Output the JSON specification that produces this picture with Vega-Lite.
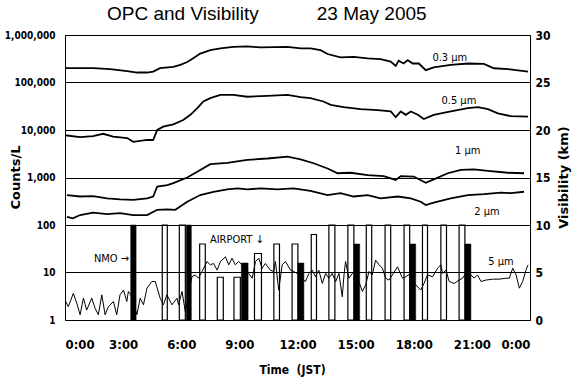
{
  "$schema": "https://vega.github.io/schema/vega-lite/v6.json",
  "width": 465,
  "height": 285,
  "autosize": {"type": "none"},
  "padding": {"left": 65, "top": 35, "right": 43, "bottom": 65},
  "background": "white",
  "title": {
    "text": "OPC and Visibility\u00a0\u00a0\u00a0\u00a0\u00a0\u00a0\u00a0\u00a0\u00a0\u00a0\u00a023 May 2005",
    "anchor": "start", "frame": "group", "dx": 42, "dy": 21, "offset": 11, "baseline": "alphabetic",
    "font": "Liberation Sans", "fontSize": 19, "fontWeight": "normal", "color": "black"
  },
  "config": {
    "view": {"stroke": "black", "strokeWidth": 1},
    "axis": {
      "labelFont": "Liberation Sans Narrow, DejaVu Sans Condensed, sans-serif",
      "labelFontWeight": "bold", "labelColor": "black",
      "titleFont": "DejaVu Sans", "titleFontWeight": "bold", "titleColor": "black",
      "domain": false, "ticks": false
    }
  },
  "datasets": {
    "lines": [
      {"s":"0.3","t":0,"c":200000},{"s":"0.3","t":1.45,"c":200000},{"s":"0.3","t":2.33,"c":190500},{"s":"0.3","t":3.21,"c":173800},{"s":"0.3","t":3.72,"c":162200},{"s":"0.3","t":4.24,"c":162200},{"s":"0.3","t":4.55,"c":169800},{"s":"0.3","t":4.91,"c":200000},{"s":"0.3","t":5.59,"c":213800},{"s":"0.3","t":5.95,"c":234400},{"s":"0.3","t":6.31,"c":269200},{"s":"0.3","t":6.62,"c":323600},{"s":"0.3","t":6.98,"c":407400},{"s":"0.3","t":7.5,"c":478600},{"s":"0.3","t":8.02,"c":524800},{"s":"0.3","t":8.69,"c":562300},{"s":"0.3","t":9.4,"c":575000},{"s":"0.3","t":10.09,"c":549500},{"s":"0.3","t":11.48,"c":562300},{"s":"0.3","t":12.16,"c":524800},{"s":"0.3","t":12.67,"c":524800},{"s":"0.3","t":13.19,"c":478600},{"s":"0.3","t":13.55,"c":398100},{"s":"0.3","t":14.22,"c":338800},{"s":"0.3","t":14.9,"c":346700},{"s":"0.3","t":15.62,"c":323600},{"s":"0.3","t":16.29,"c":309000},{"s":"0.3","t":16.81,"c":275400},{"s":"0.3","t":17.07,"c":223900},{"s":"0.3","t":17.22,"c":288400},{"s":"0.3","t":17.48,"c":251200},{"s":"0.3","t":17.69,"c":295100},{"s":"0.3","t":17.95,"c":251200},{"s":"0.3","t":18.26,"c":251200},{"s":"0.3","t":18.62,"c":182000},{"s":"0.3","t":19.03,"c":208900},{"s":"0.3","t":19.91,"c":234400},{"s":"0.3","t":20.79,"c":251200},{"s":"0.3","t":21.62,"c":245500},{"s":"0.3","t":22.14,"c":199500},{"s":"0.3","t":22.86,"c":190500},{"s":"0.3","t":23.9,"c":169800},
      {"s":"0.5","t":0,"c":7762},{"s":"0.5","t":0.78,"c":7079},{"s":"0.5","t":1.45,"c":7413},{"s":"0.5","t":1.97,"c":8318},{"s":"0.5","t":2.48,"c":7244},{"s":"0.5","t":3.21,"c":6761},{"s":"0.5","t":3.52,"c":5623},{"s":"0.5","t":4.24,"c":6166},{"s":"0.5","t":4.55,"c":6166},{"s":"0.5","t":4.76,"c":10000},{"s":"0.5","t":5.07,"c":11750},{"s":"0.5","t":5.59,"c":13180},{"s":"0.5","t":6.1,"c":16220},{"s":"0.5","t":6.47,"c":20890},{"s":"0.5","t":6.83,"c":28840},{"s":"0.5","t":7.14,"c":39810},{"s":"0.5","t":7.5,"c":46770},{"s":"0.5","t":8.02,"c":54950},{"s":"0.5","t":8.69,"c":54950},{"s":"0.5","t":9.41,"c":50120},{"s":"0.5","t":10.45,"c":52480},{"s":"0.5","t":11.48,"c":54950},{"s":"0.5","t":12.16,"c":48980},{"s":"0.5","t":12.67,"c":46770},{"s":"0.5","t":13.34,"c":39810},{"s":"0.5","t":13.71,"c":33880},{"s":"0.5","t":14.38,"c":30200},{"s":"0.5","t":15.26,"c":27540},{"s":"0.5","t":16.14,"c":26300},{"s":"0.5","t":16.81,"c":24550},{"s":"0.5","t":17.07,"c":18620},{"s":"0.5","t":17.33,"c":24550},{"s":"0.5","t":17.59,"c":20890},{"s":"0.5","t":17.85,"c":24550},{"s":"0.5","t":18.21,"c":20890},{"s":"0.5","t":18.52,"c":16980},{"s":"0.5","t":19.03,"c":20890},{"s":"0.5","t":19.91,"c":24550},{"s":"0.5","t":20.79,"c":28840},{"s":"0.5","t":21.31,"c":30200},{"s":"0.5","t":21.83,"c":27540},{"s":"0.5","t":22.34,"c":22390},{"s":"0.5","t":23.02,"c":19500},{"s":"0.5","t":23.9,"c":19050},
      {"s":"1","t":0.1,"c":427},{"s":"1","t":0.78,"c":398},{"s":"1","t":1.45,"c":407},{"s":"1","t":2.17,"c":363},{"s":"1","t":2.84,"c":347},{"s":"1","t":3.52,"c":339},{"s":"1","t":4.24,"c":363},{"s":"1","t":4.55,"c":398},{"s":"1","t":4.76,"c":646},{"s":"1","t":5.28,"c":692},{"s":"1","t":5.59,"c":759},{"s":"1","t":6.31,"c":1000},{"s":"1","t":6.98,"c":1445},{"s":"1","t":7.5,"c":1905},{"s":"1","t":8.38,"c":2042},{"s":"1","t":9.41,"c":2344},{"s":"1","t":10.45,"c":2512},{"s":"1","t":11.48,"c":2754},{"s":"1","t":12.16,"c":2399},{"s":"1","t":12.83,"c":1995},{"s":"1","t":13.55,"c":1549},{"s":"1","t":14.07,"c":1230},{"s":"1","t":14.74,"c":1259},{"s":"1","t":15.62,"c":1122},{"s":"1","t":16.45,"c":1072},{"s":"1","t":17.07,"c":891},{"s":"1","t":17.33,"c":1072},{"s":"1","t":18.0,"c":1047},{"s":"1","t":18.62,"c":776},{"s":"1","t":19.03,"c":912},{"s":"1","t":19.76,"c":1230},{"s":"1","t":20.43,"c":1445},{"s":"1","t":21.1,"c":1479},{"s":"1","t":21.83,"c":1380},{"s":"1","t":22.86,"c":1259},{"s":"1","t":23.69,"c":1230},
      {"s":"2","t":0.1,"c":148},{"s":"2","t":0.41,"c":138},{"s":"2","t":0.78,"c":162},{"s":"2","t":1.45,"c":182},{"s":"2","t":2.17,"c":170},{"s":"2","t":2.84,"c":178},{"s":"2","t":3.52,"c":162},{"s":"2","t":4.24,"c":162},{"s":"2","t":4.76,"c":209},{"s":"2","t":5.28,"c":214},{"s":"2","t":5.69,"c":209},{"s":"2","t":6.31,"c":309},{"s":"2","t":6.98,"c":427},{"s":"2","t":7.66,"c":501},{"s":"2","t":8.38,"c":562},{"s":"2","t":8.9,"c":589},{"s":"2","t":9.41,"c":562},{"s":"2","t":10.09,"c":589},{"s":"2","t":10.97,"c":562},{"s":"2","t":11.79,"c":589},{"s":"2","t":12.67,"c":525},{"s":"2","t":13.55,"c":427},{"s":"2","t":14.22,"c":468},{"s":"2","t":14.9,"c":398},{"s":"2","t":15.62,"c":427},{"s":"2","t":16.29,"c":363},{"s":"2","t":17.17,"c":398},{"s":"2","t":17.85,"c":363},{"s":"2","t":18.36,"c":309},{"s":"2","t":18.62,"c":263},{"s":"2","t":19.03,"c":295},{"s":"2","t":19.91,"c":363},{"s":"2","t":20.79,"c":427},{"s":"2","t":21.62,"c":447},{"s":"2","t":22.5,"c":479},{"s":"2","t":23.02,"c":468},{"s":"2","t":23.69,"c":501},
      {"s":"5","t":0.0,"c":2.63},{"s":"5","t":0.17,"c":1.91},{"s":"5","t":0.43,"c":3.63},{"s":"5","t":0.61,"c":2.24},{"s":"5","t":0.78,"c":1.29},{"s":"5","t":0.95,"c":2.88},{"s":"5","t":1.12,"c":1.62},{"s":"5","t":1.38,"c":2.88},{"s":"5","t":1.55,"c":1.78},{"s":"5","t":1.72,"c":1.29},{"s":"5","t":1.9,"c":3.39},{"s":"5","t":2.07,"c":1.29},{"s":"5","t":2.24,"c":1.91},{"s":"5","t":2.5,"c":2.45},{"s":"5","t":2.67,"c":1.29},{"s":"5","t":2.84,"c":3.39},{"s":"5","t":3.02,"c":4.27},{"s":"5","t":3.19,"c":2.45},{"s":"5","t":3.27,"c":3.98},{"s":"5","t":3.4,"c":3.39},{"s":"5","t":3.71,"c":1.29},{"s":"5","t":3.88,"c":2.88},{"s":"5","t":4.05,"c":2.09},{"s":"5","t":4.23,"c":4.68},{"s":"5","t":4.48,"c":6.46},{"s":"5","t":4.66,"c":6.46},{"s":"5","t":4.91,"c":2.88},{"s":"5","t":5.08,"c":2.09},{"s":"5","t":5.26,"c":3.39},{"s":"5","t":5.52,"c":2.09},{"s":"5","t":5.78,"c":2.88},{"s":"5","t":5.86,"c":2.09},{"s":"5","t":6.04,"c":3.98},{"s":"5","t":6.21,"c":1.51},{"s":"5","t":6.55,"c":8.13},{"s":"5","t":6.72,"c":8.91},{"s":"5","t":6.89,"c":7.59},{"s":"5","t":7.07,"c":10.5},{"s":"5","t":7.33,"c":17.0},{"s":"5","t":7.5,"c":14.5},{"s":"5","t":7.67,"c":15.5},{"s":"5","t":7.85,"c":11.2},{"s":"5","t":8.02,"c":17.0},{"s":"5","t":8.28,"c":21.4},{"s":"5","t":8.45,"c":14.5},{"s":"5","t":8.62,"c":20.0},{"s":"5","t":8.79,"c":14.5},{"s":"5","t":8.96,"c":17.0},{"s":"5","t":9.14,"c":14.5},{"s":"5","t":9.48,"c":9.55},{"s":"5","t":9.66,"c":7.59},{"s":"5","t":9.83,"c":17.0},{"s":"5","t":10.0,"c":20.0},{"s":"5","t":10.17,"c":12.3},{"s":"5","t":10.34,"c":15.5},{"s":"5","t":10.6,"c":11.2},{"s":"5","t":10.77,"c":10.5},{"s":"5","t":10.86,"c":17.0},{"s":"5","t":11.03,"c":4.27},{"s":"5","t":11.21,"c":14.5},{"s":"5","t":11.38,"c":17.0},{"s":"5","t":11.64,"c":11.2},{"s":"5","t":11.81,"c":10.5},{"s":"5","t":11.98,"c":9.55},{"s":"5","t":12.41,"c":6.46},{"s":"5","t":12.59,"c":9.55},{"s":"5","t":12.76,"c":11.2},{"s":"5","t":12.93,"c":8.13},{"s":"5","t":13.1,"c":11.2},{"s":"5","t":13.28,"c":5.89},{"s":"5","t":13.45,"c":9.55},{"s":"5","t":13.62,"c":7.59},{"s":"5","t":13.79,"c":9.55},{"s":"5","t":13.97,"c":6.46},{"s":"5","t":14.14,"c":9.55},{"s":"5","t":14.31,"c":3.09},{"s":"5","t":14.4,"c":8.91},{"s":"5","t":14.48,"c":17.0},{"s":"5","t":14.65,"c":7.59},{"s":"5","t":14.83,"c":9.55},{"s":"5","t":15.0,"c":11.2},{"s":"5","t":15.17,"c":6.46},{"s":"5","t":15.35,"c":3.98},{"s":"5","t":15.52,"c":5.5},{"s":"5","t":15.69,"c":10.5},{"s":"5","t":15.86,"c":8.91},{"s":"5","t":16.03,"c":18.2},{"s":"5","t":16.21,"c":14.5},{"s":"5","t":16.38,"c":12.3},{"s":"5","t":16.55,"c":7.59},{"s":"5","t":16.72,"c":6.92},{"s":"5","t":16.9,"c":8.91},{"s":"5","t":17.16,"c":13.2},{"s":"5","t":17.42,"c":7.59},{"s":"5","t":17.59,"c":8.13},{"s":"5","t":17.85,"c":9.55},{"s":"5","t":18.1,"c":5.5},{"s":"5","t":18.36,"c":4.27},{"s":"5","t":18.53,"c":5.89},{"s":"5","t":18.71,"c":8.91},{"s":"5","t":18.97,"c":8.13},{"s":"5","t":19.23,"c":12.3},{"s":"5","t":19.4,"c":14.5},{"s":"5","t":19.49,"c":9.55},{"s":"5","t":19.66,"c":11.2},{"s":"5","t":19.83,"c":6.46},{"s":"5","t":20.09,"c":5.89},{"s":"5","t":20.34,"c":6.92},{"s":"5","t":20.52,"c":7.59},{"s":"5","t":20.69,"c":9.55},{"s":"5","t":20.95,"c":8.91},{"s":"5","t":21.12,"c":7.59},{"s":"5","t":21.29,"c":8.91},{"s":"5","t":21.47,"c":6.46},{"s":"5","t":21.72,"c":6.92},{"s":"5","t":22.07,"c":7.24},{"s":"5","t":22.41,"c":7.24},{"s":"5","t":22.76,"c":7.59},{"s":"5","t":22.93,"c":7.59},{"s":"5","t":23.11,"c":12.3},{"s":"5","t":23.28,"c":8.91},{"s":"5","t":23.45,"c":4.68},{"s":"5","t":23.62,"c":6.46},{"s":"5","t":23.79,"c":11.2},{"s":"5","t":23.9,"c":14.5}
    ],
    "bars": [
      {"src":"AIRPORT","t":5.02,"t2":5.28,"vis":10},{"src":"AIRPORT","t":5.9,"t2":6.21,"vis":10},{"src":"AIRPORT","t":6.95,"t2":7.24,"vis":8},{"src":"AIRPORT","t":7.86,"t2":8.17,"vis":4.5},{"src":"AIRPORT","t":8.72,"t2":9.05,"vis":4.5},{"src":"AIRPORT","t":9.78,"t2":10.14,"vis":7},{"src":"AIRPORT","t":10.78,"t2":11.07,"vis":8},{"src":"AIRPORT","t":11.72,"t2":12.02,"vis":8},{"src":"AIRPORT","t":12.71,"t2":12.98,"vis":9},{"src":"AIRPORT","t":13.62,"t2":13.93,"vis":10},{"src":"AIRPORT","t":14.6,"t2":14.91,"vis":10},{"src":"AIRPORT","t":15.55,"t2":15.83,"vis":10},{"src":"AIRPORT","t":16.52,"t2":16.81,"vis":10},{"src":"AIRPORT","t":17.5,"t2":17.79,"vis":10},{"src":"AIRPORT","t":18.45,"t2":18.71,"vis":10},{"src":"AIRPORT","t":19.4,"t2":19.69,"vis":10},{"src":"AIRPORT","t":20.34,"t2":20.64,"vis":10},
      {"src":"NMO","t":3.39,"t2":3.67,"vis":10},{"src":"NMO","t":6.26,"t2":6.52,"vis":10},{"src":"NMO","t":9.1,"t2":9.45,"vis":6},{"src":"NMO","t":12.02,"t2":12.33,"vis":6},{"src":"NMO","t":14.91,"t2":15.21,"vis":8},{"src":"NMO","t":17.79,"t2":18.1,"vis":8},{"src":"NMO","t":20.64,"t2":20.95,"vis":8}
    ],
    "labels": [
      {"label":"0.3 μm","t":19.86,"c":330000},
      {"label":"0.5 μm","t":20.33,"c":40700},
      {"label":"1 μm","t":20.79,"c":3630},
      {"label":"2 μm","t":21.78,"c":187},
      {"label":"5 μm","t":22.5,"c":16.6},
      {"label":"NMO →","t":2.4,"c":19.1},
      {"label":"AIRPORT\u00a0↓","t":8.87,"c":48}
    ]
  },
  "encoding": {
    "x": {
      "field": "t", "type": "quantitative",
      "scale": {"domain": [0, 24], "nice": false, "zero": false},
      "axis": {
        "values": [0, 3, 6, 9, 12, 15, 18, 21, 24],
        "labelExpr": "(datum.value % 24) + ':00'",
        "grid": false, "labelFontSize": 13, "labelPadding": 18,
        "title": "Time\u00a0\u00a0(JST)", "titleFont": "Liberation Sans Narrow, DejaVu Sans Condensed, sans-serif",
        "titleFontSize": 12, "titleX": 227, "titleY": 44, "titleBaseline": "top"
      }
    }
  },
  "layer": [
    {
      "layer": [
        {
          "data": {"name": "lines"},
          "transform": [{"filter": "datum.s !== '5'"}],
          "mark": {"type": "line", "color": "black", "strokeWidth": 1.8, "clip": true},
          "encoding": {
            "y": {
              "field": "c", "type": "quantitative",
              "scale": {"type": "log", "domain": [1, 1000000]},
              "axis": {
                "orient": "left",
                "values": [1, 10, 100, 1000, 10000, 100000, 1000000],
                "format": ",", "grid": true, "gridColor": "black", "gridOpacity": 1, "gridWidth": 1,
                "labelFontSize": 10, "labelPadding": 10,
                "title": "Counts/L", "titleFontSize": 13, "titleAngle": -90,
                "titleX": -50, "titleY": 142, "titleBaseline": "middle", "titleAlign": "center"
              }
            },
            "detail": {"field": "s"}
          }
        },
        {
          "data": {"name": "lines"},
          "transform": [{"filter": "datum.s === '5'"}],
          "mark": {"type": "line", "color": "black", "strokeWidth": 1, "clip": true},
          "encoding": {"y": {"field": "c", "type": "quantitative"}}
        },
        {
          "data": {"name": "labels"},
          "mark": {"type": "text", "font": "Liberation Sans Narrow, DejaVu Sans Condensed, sans-serif", "fontSize": 11, "color": "black", "align": "center", "baseline": "middle"},
          "encoding": {"y": {"field": "c", "type": "quantitative"}, "text": {"field": "label"}}
        }
      ]
    },
    {
      "layer": [
        {
          "data": {"name": "bars"},
          "transform": [{"filter": "datum.src === 'AIRPORT'"}],
          "mark": {"type": "rect", "fill": "white", "fillOpacity": 0, "stroke": "black", "strokeWidth": 1.2},
          "encoding": {
            "x2": {"field": "t2"},
            "y": {
              "field": "vis", "type": "quantitative",
              "scale": {"domain": [0, 30], "nice": false},
              "axis": {
                "orient": "right", "values": [0, 5, 10, 15, 20, 25, 30], "grid": false,
                "labelFontSize": 12, "labelPadding": 5,
                "title": "Visibility (km)", "titleFontSize": 13, "titleAngle": -90,
                "titleX": 33, "titleY": 142, "titleBaseline": "middle", "titleAlign": "center"
              }
            },
            "y2": {"datum": 0}
          }
        },
        {
          "data": {"name": "bars"},
          "transform": [{"filter": "datum.src === 'NMO'"}],
          "mark": {"type": "rect", "fill": "black", "stroke": "black", "strokeWidth": 0.5},
          "encoding": {
            "x2": {"field": "t2"},
            "y": {"field": "vis", "type": "quantitative"},
            "y2": {"datum": 0}
          }
        }
      ]
    }
  ],
  "resolve": {"scale": {"y": "independent"}}
}
